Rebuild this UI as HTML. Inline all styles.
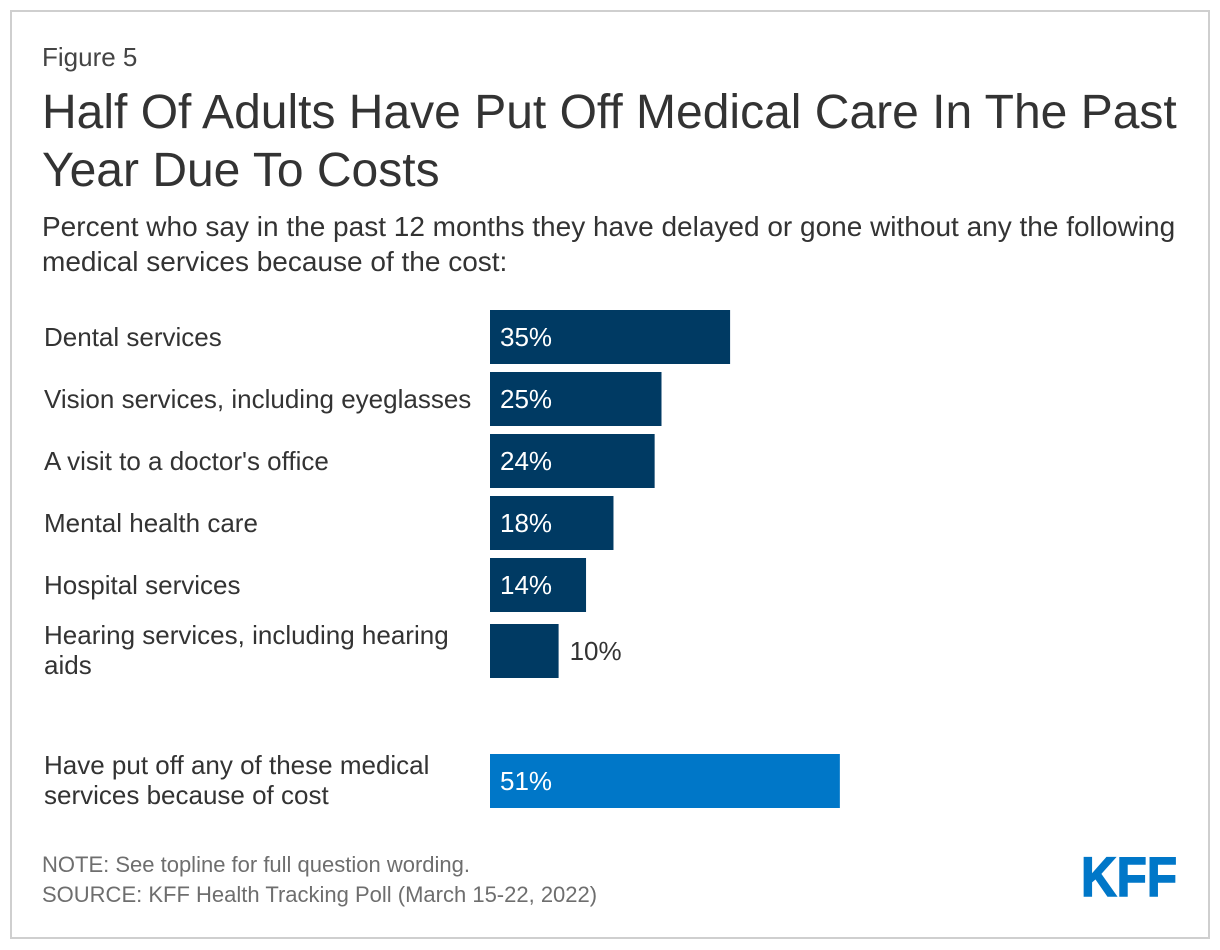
<!DOCTYPE html>
<html lang="en">
<head>
<meta charset="utf-8">
<title>Half Of Adults Have Put Off Medical Care In The Past Year Due To Costs</title>
<style>
html,body{margin:0;padding:0;background:#fff;}
body{width:1220px;height:950px;overflow:hidden;}
svg{display:block;font-family:"Liberation Sans",Arial,sans-serif;}
</style>
</head>
<body>
<svg id="chart" width="1220" height="950" viewBox="0 0 1220 950" xmlns="http://www.w3.org/2000/svg">
  <rect x="11" y="11" width="1198" height="927" fill="#fff" stroke="#cfcfcf" stroke-width="2"/>
  <text x="42" y="66" font-size="26" fill="#444">Figure 5</text>
  <text x="42" y="128" font-size="48" fill="#333">Half Of Adults Have Put Off Medical Care In The Past</text>
  <text x="42" y="186" font-size="48" fill="#333">Year Due To Costs</text>
  <text x="42" y="236" font-size="28" fill="#333">Percent who say in the past 12 months they have delayed or gone without any the following</text>
  <text x="42" y="271" font-size="28" fill="#333">medical services because of the cost:</text>
  <g id="rows"></g>
  <text x="42" y="872" font-size="22" fill="#6e6e6e">NOTE: See topline for full question wording.</text>
  <text x="42" y="902" font-size="22" fill="#6e6e6e">SOURCE: KFF Health Tracking Poll (March 15-22, 2022)</text>
  <text x="1081" y="896" font-size="56" font-weight="bold" fill="#0077c8" stroke="#0077c8" stroke-width="1.5" textLength="96" lengthAdjust="spacingAndGlyphs">KFF</text>
</svg>
<script>
const categories = [
  ["Dental services"],
  ["Vision services, including eyeglasses"],
  ["A visit to a doctor's office"],
  ["Mental health care"],
  ["Hospital services"],
  ["Hearing services, including hearing", "aids"],
  ["Have put off any of these medical", "services because of cost"]
];
const values = [35, 25, 24, 18, 14, 10, 51];
const isTotal = [false, false, false, false, false, false, true];

const NS = "http://www.w3.org/2000/svg";
const rowsGroup = document.getElementById("rows");
const BAR_X = 490, BAR_H = 54, PX_PER_POINT = 6.86;
function xScale(v) { return v * PX_PER_POINT; }
function makeText(x, y, size, fill, str) {
  const t = document.createElementNS(NS, "text");
  t.setAttribute("x", x);
  t.setAttribute("y", y);
  t.setAttribute("font-size", size);
  t.setAttribute("fill", fill);
  t.textContent = str;
  return t;
}
let cursorY = 310;
values.forEach(function (v, i) {
  if (isTotal[i]) cursorY += 68;
  const lines = categories[i];
  const multi = lines.length > 1;
  if (multi && !isTotal[i]) cursorY += 4;
  const mid = cursorY + BAR_H / 2;
  const rect = document.createElementNS(NS, "rect");
  rect.setAttribute("x", BAR_X);
  rect.setAttribute("y", cursorY);
  rect.setAttribute("width", xScale(v));
  rect.setAttribute("height", BAR_H);
  rect.setAttribute("fill", isTotal[i] ? "#0077c8" : "#003a63");
  
  
  rowsGroup.appendChild(rect);
  const inside = xScale(v) > 80;
  const val = makeText(inside ? BAR_X + 10 : BAR_X + xScale(v) + 11, mid + 9, 26, inside ? "#fff" : "#333", v + "%");
  
  
  rowsGroup.appendChild(val);
  lines.forEach(function (line, j) {
    const y = multi ? mid - 7 + j * 30 : mid + 9;
    const lab = makeText(44, y, 26, "#333", line);
    
    
    rowsGroup.appendChild(lab);
  });
  cursorY += BAR_H + 8;
});
</script>
</body>
</html>
